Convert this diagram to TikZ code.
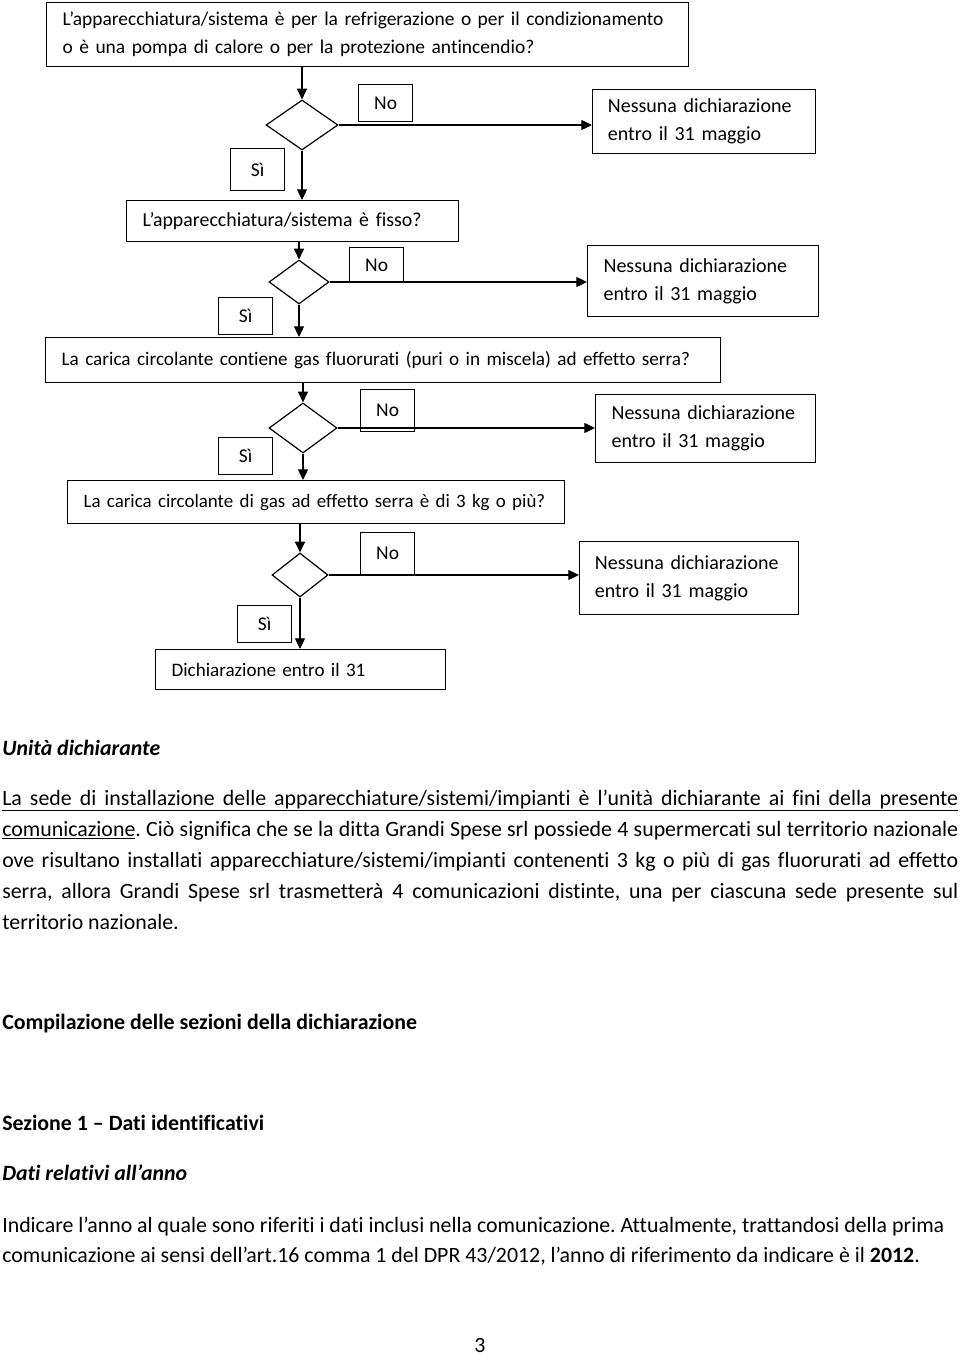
\documentclass[tikz,border=0pt]{standalone}
\usepackage{fontspec}
\setmainfont{Carlito}[Ligatures={TeX,NoCommon}]
\usetikzlibrary{shapes.geometric,arrows.meta}

\newcommand{\flowfont}{\fontsize{14.6}{21}\selectfont}
\newcommand{\bodyfont}{\fontsize{16.4}{23.25}\selectfont}
\newcommand{\fullline}[1]{\makebox[717pt][s]{#1}}
\frenchspacing

\tikzset{
  qbox/.style={draw, line width=0.9pt, anchor=north west, align=left,
    inner xsep=12pt, inner ysep=0pt, font=\flowfont},
  tag/.style={draw, line width=0.9pt, anchor=north west, inner sep=0pt,
    minimum width=40.5pt, font=\flowfont},
  dec/.style={draw, diamond, line width=0.9pt, inner sep=0pt},
  flow/.style={line width=0.9pt, -{Triangle[length=8pt,width=7.5pt]}},
  body/.style={anchor=base west, inner sep=0pt, font=\bodyfont}
}

\begin{document}
\begin{tikzpicture}[x=0.75pt, y=-0.75pt]
    % Page area (960 x 1356 px)
    \useasboundingbox (0,0) rectangle (960,1356);
    \fill[white] (0,0) rectangle (960,1356);

    % Questions of the flow chart
    \node[qbox, text width=457.5pt, minimum height=48pt] (q1) at (46,2)
      {L’apparecchiatura/sistema è per la refrigerazione o per il condizionamento\\o è una pompa di calore o per la protezione antincendio?};
    \node[qbox, text width=225pt, minimum height=30.75pt, font=\fontsize{14.9}{21}\selectfont] (q2) at (126,200)
      {L’apparecchiatura/sistema è fisso?};
    \node[qbox, text width=482.25pt, minimum height=33.75pt, font=\fontsize{14.4}{21}\selectfont] (q3) at (45,337)
      {La carica circolante contiene gas fluorurati (puri o in miscela) ad effetto serra?};
    \node[qbox, text width=348.75pt, minimum height=32.25pt, font=\fontsize{14.2}{21}\selectfont] (q4) at (67,480)
      {La carica circolante di gas ad effetto serra è di 3 kg o più?};
    \node[qbox, text width=193.5pt, minimum height=30pt, font=\fontsize{14.3}{21}\selectfont] (q5) at (155,649)
      {Dichiarazione entro il 31};

    % Outcomes on the "No" side
    \node[qbox, text width=144pt, minimum height=48pt, inner xsep=11.5pt, font=\fontsize{15}{21}\selectfont] (n1) at (592,89)
      {Nessuna dichiarazione\\entro il 31 maggio};
    \node[qbox, text width=149.25pt, minimum height=53.25pt, font=\fontsize{15}{21}\selectfont] (n2) at (587,245)
      {Nessuna dichiarazione\\entro il 31 maggio};
    \node[qbox, text width=141pt, minimum height=51pt, font=\fontsize{15}{21}\selectfont] (n3) at (595,394)
      {Nessuna dichiarazione\\entro il 31 maggio};
    \node[qbox, text width=141pt, minimum height=54.75pt, inner xsep=11.5pt, font=\fontsize{15}{21}\selectfont] (n4) at (579,541)
      {Nessuna dichiarazione\\entro il 31 maggio};

    % Decisions
    \node[dec, minimum width=54pt, minimum height=37.5pt] (d1) at (302,125) {};
    \node[dec, minimum width=45pt, minimum height=33pt] (d2) at (299,282) {};
    \node[dec, minimum width=51pt, minimum height=37.5pt] (d3) at (303,428) {};
    \node[dec, minimum width=42pt, minimum height=33pt] (d4) at (300,575) {};

    % Answer labels
    \node[tag, minimum height=27.75pt] (no1) at (358,84) {No};
    \node[tag, minimum height=26.25pt] (no2) at (349,247) {No};
    \node[tag, minimum height=31.5pt] (no3) at (360,389) {No};
    \node[tag, minimum height=31.5pt] (no4) at (360,532) {No};
    \node[tag, minimum height=31.5pt] (si1) at (230,148) {Sì};
    \node[tag, minimum height=27.75pt] (si2) at (218,297) {Sì};
    \node[tag, minimum height=27.75pt] (si3) at (218,437) {Sì};
    \node[tag, minimum height=27.75pt] (si4) at (237,605) {Sì};

    % Arrows
    \draw[flow] (q1.south -| d1.north) -- (d1.north);
    \draw[flow] (d1.east) -- (d1.east -| n1.west);
    \draw[flow] (d1.south) -- (d1.south |- q2.north);
    \draw[flow] (q2.south -| d2.north) -- (d2.north);
    \draw[flow] (d2.east) -- (d2.east -| n2.west);
    \draw[flow] (d2.south) -- (d2.south |- q3.north);
    \draw[flow] (q3.south -| d3.north) -- (d3.north);
    \draw[flow] (d3.east) -- (d3.east -| n3.west);
    \draw[flow] (d3.south) -- (d3.south |- q4.north);
    \draw[flow] (q4.south -| d4.north) -- (d4.north);
    \draw[flow] (d4.east) -- (d4.east -| n4.west);
    \draw[flow] (d4.south) -- (d4.south |- q5.north);

    % Text below the chart
    \node[body, font=\bodyfont\bfseries\itshape] (unita) at (2,755) {Unità dichiarante};
    \node[body] (sede1) at (2,805)
      {\underline{\fullline{La sede di installazione delle apparecchiature/sistemi/impianti è l’unità dichiarante ai fini della presente}}};
    \node[body] (sede2) at (2,836)
      {\fullline{\underline{comunicazione}. Ciò significa che se la ditta Grandi Spese srl possiede 4 supermercati sul territorio nazionale}};
    \node[body] (sede3) at (2,867)
      {\fullline{ove risultano installati apparecchiature/sistemi/impianti contenenti 3 kg o più di gas fluorurati ad effetto}};
    \node[body] (sede4) at (2,898)
      {\fullline{serra, allora Grandi Spese srl trasmetterà 4 comunicazioni distinte, una per ciascuna sede presente sul}};
    \node[body] (sede5) at (2,929) {territorio nazionale.};
    \node[body, font=\bodyfont\bfseries] (compil) at (2,1029) {Compilazione delle sezioni della dichiarazione};
    \node[body, font=\bodyfont\bfseries] (sez1) at (2,1130) {Sezione 1 -- Dati identificativi};
    \node[body, font=\bodyfont\bfseries\itshape] (anno) at (2,1180) {Dati relativi all’anno};
    \node[body] (indic1) at (2,1232)
      {Indicare l’anno al quale sono riferiti i dati inclusi nella comunicazione. Attualmente, trattandosi della prima};
    \node[body] (indic2) at (2,1262)
      {comunicazione ai sensi dell’art.16 comma 1 del DPR 43/2012, l’anno di riferimento da indicare è il \textbf{2012}.};
    \node[body, anchor=base] (page) at (480,1352) {3};
\end{tikzpicture}
\end{document}
